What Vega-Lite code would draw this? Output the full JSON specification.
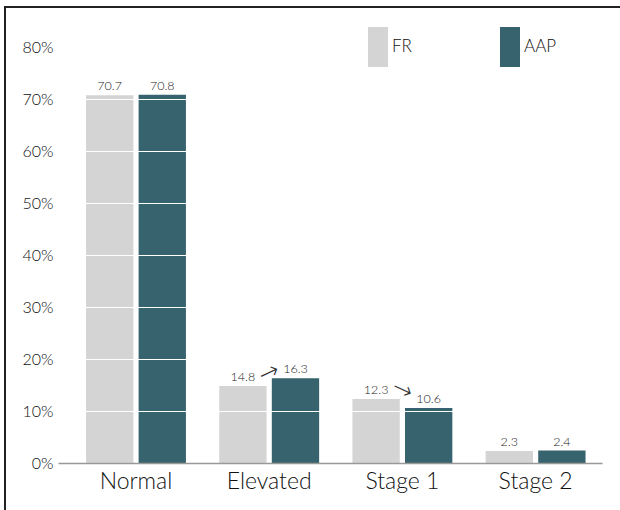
{
  "$schema": "https://vega.github.io/schema/vega-lite/v6.json",
  "width": 615,
  "height": 503,
  "autosize": "none",
  "padding": {"left": 5, "top": 7, "right": 0, "bottom": 0},
  "background": "white",
  "config": {
    "view": {"stroke": "#222", "strokeWidth": 2, "strokeDash": [615, 1118, 503]},
    "font": "Lato"
  },
  "datasets": {
    "bars": [
      {"category": "Normal", "series": "FR", "value": 70.7},
      {"category": "Normal", "series": "AAP", "value": 70.8},
      {"category": "Elevated", "series": "FR", "value": 14.8},
      {"category": "Elevated", "series": "AAP", "value": 16.3},
      {"category": "Stage 1", "series": "FR", "value": 12.3},
      {"category": "Stage 1", "series": "AAP", "value": 10.6},
      {"category": "Stage 2", "series": "FR", "value": 2.3},
      {"category": "Stage 2", "series": "AAP", "value": 2.4}
    ],
    "arrows": [
      {"category": "Elevated", "level": 17.3, "dir": "up"},
      {"category": "Stage 1", "level": 14.0, "dir": "down"}
    ]
  },
  "layer": [
    {
      "data": {"name": "bars"},
      "mark": {"type": "bar"},
      "encoding": {
        "x": {
          "field": "category",
          "type": "nominal",
          "sort": ["Normal", "Elevated", "Stage 1", "Stage 2"],
          "scale": {"range": [53, 597], "paddingInner": 0.25, "paddingOuter": 0.167, "align": 0.63},
          "axis": {
            "orient": "bottom",
            "offset": -47,
            "title": null,
            "ticks": false,
            "labelAngle": 0,
            "labelFontSize": 23,
            "labelFontWeight": 300,
            "labelColor": "#111",
            "labelPadding": 7,
            "domainColor": "#999",
            "domainWidth": 1.5,
            "grid": false,
            "zindex": 2
          }
        },
        "xOffset": {
          "field": "series",
          "type": "nominal",
          "sort": ["FR", "AAP"],
          "scale": {"paddingInner": 0.1}
        },
        "y": {
          "field": "value",
          "type": "quantitative",
          "scale": {"domain": [0, 80], "range": [456, 40], "nice": false},
          "axis": {
            "orient": "left",
            "offset": -53,
            "title": null,
            "values": [0, 10, 20, 30, 40, 50, 60, 70, 80],
            "labelExpr": "datum.value + '%'",
            "domain": false,
            "ticks": false,
            "grid": true,
            "gridColor": "white",
            "gridOpacity": {"condition": {"test": "datum.value >= 80", "value": 0}, "value": 1},
            "gridWidth": 1,
            "labelFontSize": 16,
            "labelFontWeight": 300,
            "labelColor": "#111",
            "labelPadding": 5,
            "zindex": 1
          }
        },
        "color": {
          "field": "series",
          "type": "nominal",
          "sort": ["FR", "AAP"],
          "scale": {"domain": ["FR", "AAP"], "range": ["#d4d4d4", "#36636d"]},
          "legend": {
            "orient": "none",
            "legendX": 363,
            "legendY": 30,
            "direction": "horizontal",
            "title": null,
            "symbolType": "M-1,-2H1V2H-1Z",
            "symbolSize": 400,
            "symbolStrokeWidth": 0,
            "symbolOpacity": 1,
            "labelFontSize": 17,
            "labelFontWeight": 300,
            "labelColor": "#111",
            "labelOffset": 4,
            "columnPadding": 88,
            "padding": 0,
            "zindex": 3
          }
        }
      }
    },
    {
      "data": {"name": "bars"},
      "mark": {"type": "text", "baseline": "alphabetic", "dy": -5, "fontSize": 12.5, "fontWeight": 300, "color": "#222"},
      "encoding": {
        "x": {"field": "category", "type": "nominal", "sort": ["Normal", "Elevated", "Stage 1", "Stage 2"]},
        "xOffset": {"field": "series", "type": "nominal", "sort": ["FR", "AAP"]},
        "y": {"field": "value", "type": "quantitative"},
        "text": {"field": "value", "type": "quantitative", "format": ".1f"}
      }
    },
    {
      "data": {"name": "arrows"},
      "transform": [{"filter": "datum.dir === 'up'"}],
      "mark": {"type": "text", "text": "→", "font": "DejaVu Sans", "fontWeight": 200, "fontSize": 24, "angle": -25, "baseline": "middle", "align": "center", "color": "#333"},
      "encoding": {
        "x": {"field": "category", "type": "nominal", "sort": ["Normal", "Elevated", "Stage 1", "Stage 2"]},
        "y": {"field": "level", "type": "quantitative"}
      }
    },
    {
      "data": {"name": "arrows"},
      "transform": [{"filter": "datum.dir === 'down'"}],
      "mark": {"type": "text", "text": "→", "font": "DejaVu Sans", "fontWeight": 200, "fontSize": 24, "angle": 25, "baseline": "middle", "align": "center", "color": "#333"},
      "encoding": {
        "x": {"field": "category", "type": "nominal", "sort": ["Normal", "Elevated", "Stage 1", "Stage 2"]},
        "y": {"field": "level", "type": "quantitative"}
      }
    }
  ]
}
